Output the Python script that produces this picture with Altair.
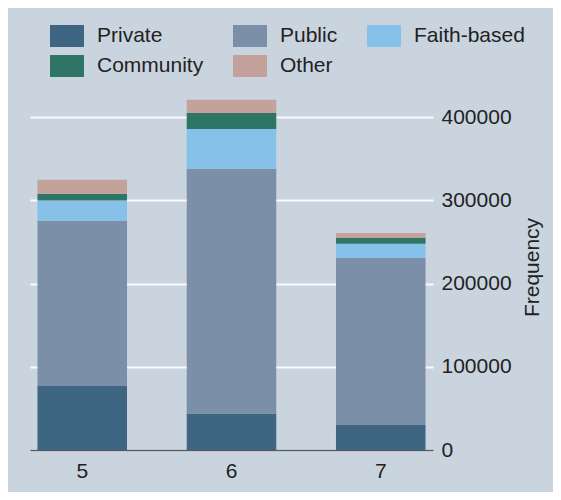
import altair as alt
import pandas as pd

grades = ["5", "6", "7"]
categories = ["Private", "Public", "Faith-based", "Community", "Other"]
private = [77000, 44000, 30000]
public = [199000, 294000, 201000]
faith = [24000, 48000, 17000]
community = [8000, 19000, 7000]
other = [17000, 16000, 6000]
colors = ["#3e6581", "#7b90a8", "#85c1e9", "#2f7566", "#c4a29b"]

series = [private, public, faith, community, other]
rows = []
for ci, (cat, vals) in enumerate(zip(categories, series)):
    for g, v in zip(grades, vals):
        rows.append({"grade": g, "type": cat, "count": v, "rank": ci})
df = pd.DataFrame(rows)

font = "Liberation Sans"
txt = "#222222"

chart = alt.Chart(df).mark_bar().encode(
    x=alt.X("grade:N", sort=grades, title=None,
            scale=alt.Scale(paddingInner=0.4, paddingOuter=0.05),
            axis=alt.Axis(labelAngle=0, ticks=False, labelPadding=10,
                          domainColor="#555b63", domainWidth=1.5,
                          labelFontSize=21, labelColor=txt, labelFont=font, grid=False)),
    y=alt.Y("count:Q", stack="zero", title="Frequency",
            scale=alt.Scale(domain=[0, 440000], nice=False),
            axis=alt.Axis(orient="right", values=[0, 100000, 200000, 300000, 400000],
                          format="d", ticks=False, domain=False, labelPadding=8,
                          labelFontSize=21, labelColor=txt, labelFont=font,
                          titleFontSize=21, titleColor=txt, titleFont=font,
                          titleFontWeight="normal", titleAngle=270, titleBaseline="top",
                          titlePadding=10,
                          gridColor="#ffffff", gridWidth=2, gridOpacity=0.9)),
    color=alt.Color("type:N", scale=alt.Scale(domain=categories, range=colors),
                    legend=alt.Legend(title=None, orient="none", legendX=20, legendY=-65,
                                      direction="horizontal",
                                      columns=3, columnPadding=29, rowPadding=2,
                                      symbolType="M-1,-0.647H1V0.647H-1Z", symbolSize=1156,
                                      symbolStrokeWidth=0, symbolOpacity=1, labelOffset=13,
                                      labelFontSize=21, labelColor=txt, labelFont=font,
                                      padding=0, labelLimit=300)),
    order=alt.Order("rank:Q", sort="ascending"),
).properties(
    width=403, height=366,
    autosize=alt.AutoSizeParams(type="none"),
    padding={"left": 22, "top": 76, "right": 120, "bottom": 42},
    background="#c9d4df",
).configure_view(stroke=None)

chart.save("out.html", embed_options={"renderer": "svg", "actions": False})
